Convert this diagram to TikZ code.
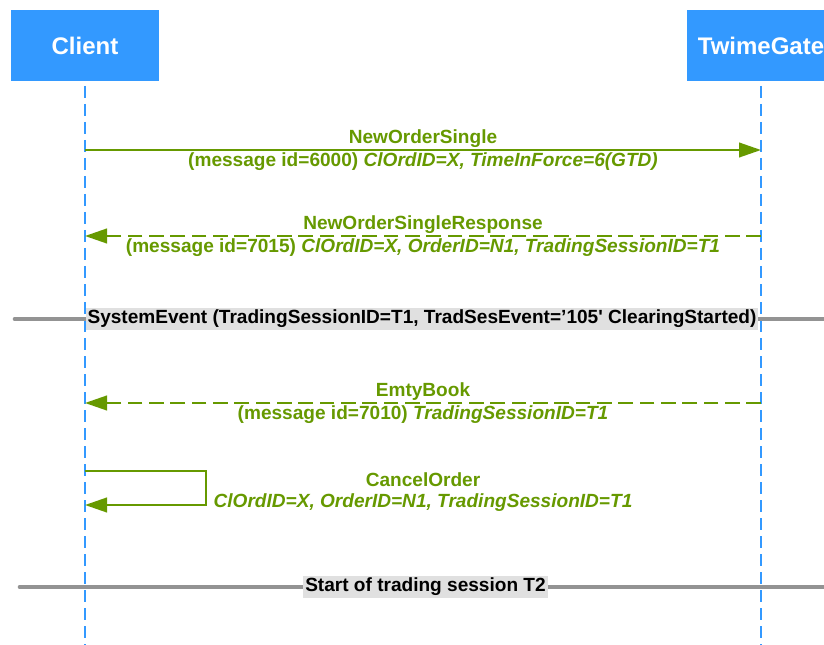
\documentclass[tikz,border=0pt]{standalone}
\usepackage{fontspec}
\setmainfont{Liberation Sans}
\usepackage{tikz}
\usetikzlibrary{arrows.meta, calc, positioning}
\definecolor{kopfblau}{HTML}{3399FF}
\definecolor{gruen}{HTML}{669900}
\definecolor{grau}{HTML}{939393}
\definecolor{hell}{HTML}{E0E0E0}

\begin{document}
\begin{tikzpicture}[x=0.75pt, y=-0.75pt,
    kopf/.style={fill=kopfblau, text=white, font=\fontsize{18}{21}\selectfont\bfseries,
      minimum width=111pt, minimum height=53.25pt, inner sep=0pt},
    leben/.style={kopfblau, line width=1pt, dash pattern=on 9pt off 4.5pt},
    msg/.style={gruen, line width=1.5pt, -{Triangle[length=16.5pt, width=11pt]}},
    antwort/.style={msg, dash pattern=on 11pt off 5pt},
    txt/.style={text=gruen, font=\fontsize{14.3}{17}\selectfont\bfseries, inner sep=1pt},
    trenner/.style={grau, line width=3.5pt, line cap=round},
    marke/.style={fill=hell, font=\fontsize{14.3}{17}\selectfont\bfseries, inner sep=1.5pt}]
  \clip (0,0) rectangle (824,645);
  \useasboundingbox (0,0) rectangle (824,645);

  % Teilnehmer
  \node[kopf] (client) at (85,45.5) {Client};
  \node[kopf] (gate) at (761,46) {TwimeGate};
  \coordinate (c-oben) at (85,86);
  \coordinate (c-unten) at (85,645);
  \coordinate (g-oben) at (761,86);
  \coordinate (g-unten) at (761,645);
  \draw[leben] (c-oben) -- (c-unten);
  \draw[leben] (g-oben) -- (g-unten);

  % NewOrderSingle
  \coordinate (c-m1) at (85,150);
  \coordinate (g-m1) at (761,150);
  \draw[msg] (c-m1) -- (g-m1)
    node[midway, above, txt] (m1-name) {NewOrderSingle}
    node[midway, below, txt] (m1-info) {(message id=6000) \textit{ClOrdID=X, TimeInForce=6(GTD)}};

  % NewOrderSingleResponse
  \coordinate (c-m2) at (85,236);
  \coordinate (g-m2) at (761,236);
  \draw[antwort] (g-m2) -- (c-m2)
    node[midway, above, txt] (m2-name) {NewOrderSingleResponse}
    node[midway, below, txt] (m2-info) {(message id=7015) \textit{ClOrdID=X, OrderID=N1, TradingSessionID=T1}};

  % SystemEvent
  \coordinate (t1-links) at (15,319);
  \coordinate (t1-rechts) at (830,319);
  \draw[trenner] (t1-links) -- (t1-rechts);
  \node[marke] (t1-marke) at (422,319) {SystemEvent (TradingSessionID=T1, TradSesEvent=’105{\addfontfeatures{Ligatures=TeXOff}'} ClearingStarted)};

  % EmtyBook
  \coordinate (c-m3) at (85,403);
  \coordinate (g-m3) at (761,403);
  \draw[antwort] (g-m3) -- (c-m3)
    node[midway, above, txt] (m3-name) {EmtyBook}
    node[midway, below, txt] (m3-info) {(message id=7010) \textit{TradingSessionID=T1}};

  % CancelOrder
  \coordinate (c-s1) at (85,471);
  \coordinate (c-s2) at (85,505);
  \draw[msg] (c-s1) -- ++(121,0) |- (c-s2);
  \node[txt] (s-name) at (423,480) {CancelOrder};
  \node[txt] (s-info) at (423,503) {\textit{ClOrdID=X, OrderID=N1, TradingSessionID=T1}};

  % Start T2
  \coordinate (t2-links) at (20,587);
  \coordinate (t2-rechts) at (830,587);
  \draw[trenner] (t2-links) -- (t2-rechts);
  \node[marke] (t2-marke) at (425.5,587) {Start of trading session T2};
\end{tikzpicture}
\end{document}
